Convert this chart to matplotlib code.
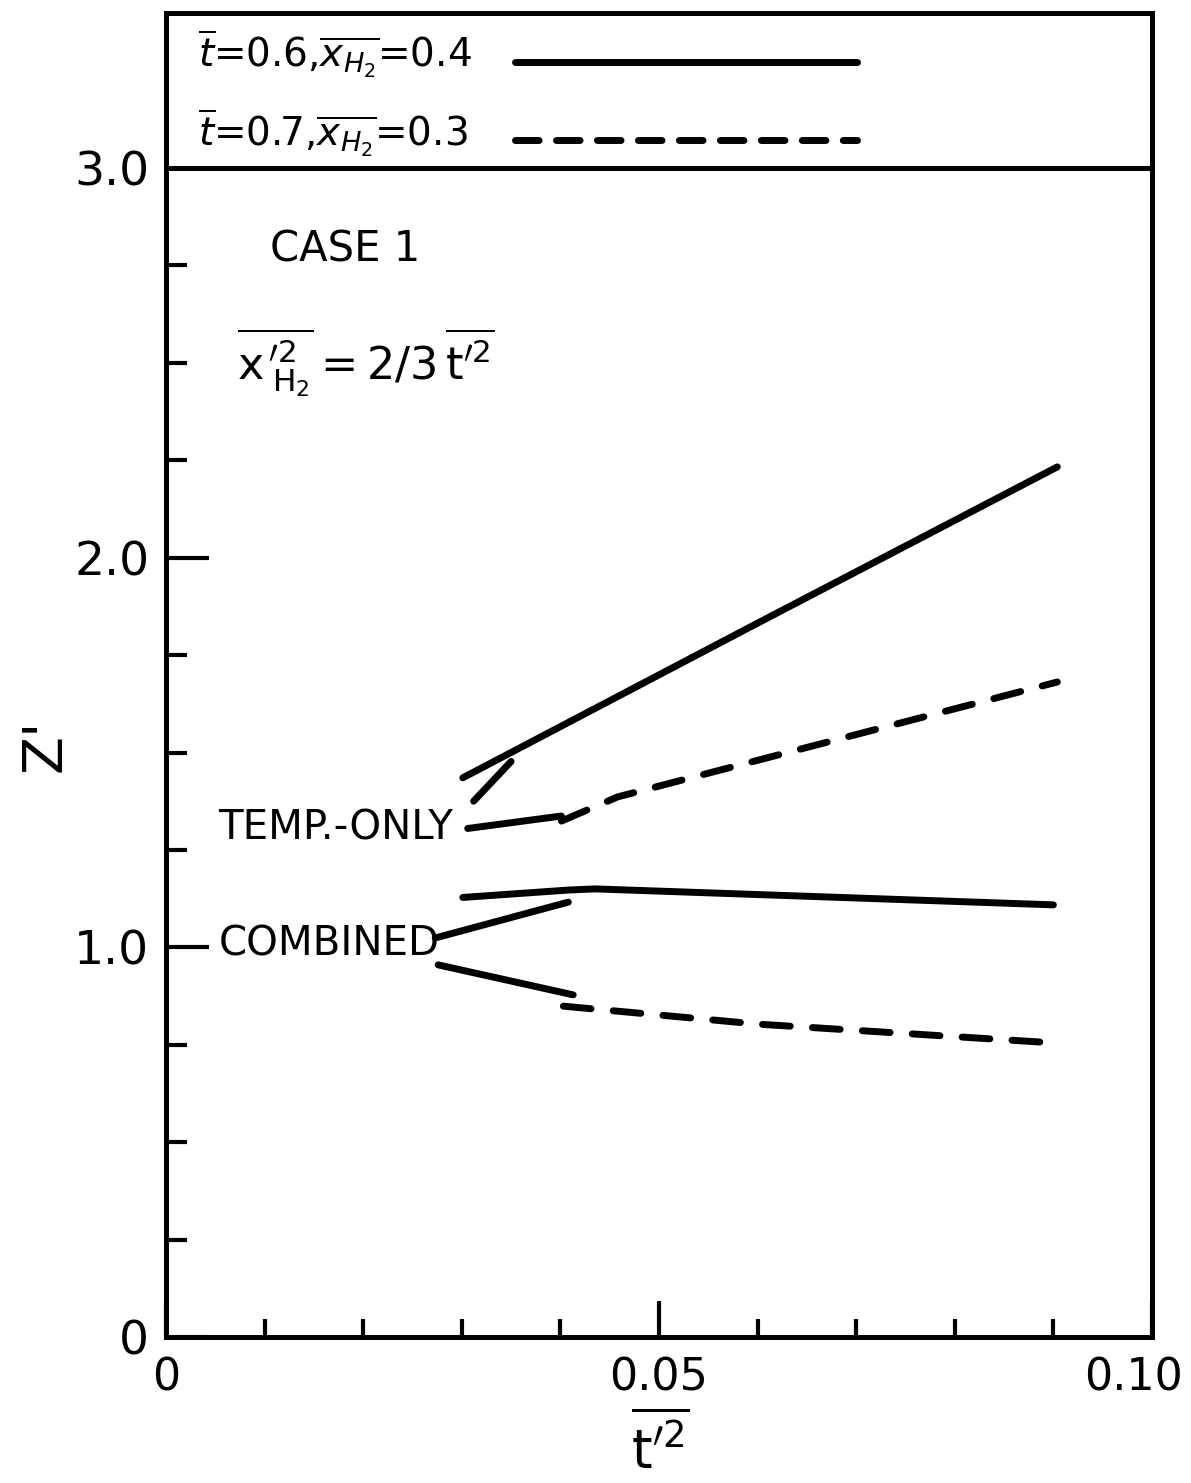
import matplotlib
matplotlib.use("Agg")
import matplotlib.pyplot as plt
from matplotlib.ticker import MultipleLocator, FixedLocator
from matplotlib.transforms import ScaledTranslation

plt.rcParams['font.family'] = ['DejaVu Sans']
plt.rcParams['mathtext.fontset'] = 'dejavusans'

# ---- data ----
temp06_x = [0.0301, 0.0600, 0.0904]
temp06_y = [1.435, 1.832, 2.233]
temp_link_x = [0.0312, 0.0350]
temp_link_y = [1.375, 1.477]
temp07_solid_x = [0.0306, 0.0401]
temp07_solid_y = [1.305, 1.337]
temp07_dash_x = [0.0401, 0.0458, 0.0904]
temp07_dash_y = [1.324, 1.386, 1.681]
comb06_x = [0.0301, 0.0408, 0.0435, 0.0900]
comb06_y = [1.128, 1.147, 1.150, 1.109]
comb_link_x = [0.0273, 0.0408]
comb_link_y = [1.024, 1.116]
comb07_solid_x = [0.0276, 0.0413]
comb07_solid_y = [0.955, 0.878]
comb07_dash_x = [0.0403, 0.0600, 0.0905]
comb07_dash_y = [0.849, 0.803, 0.754]

x_labels_pos = [0.0, 0.05, 0.10]
x_labels = ['0', '0.05', '0.10']
y_labels_pos = [0.0, 1.0, 2.0, 3.0]
y_labels = ['0', '1.0', '2.0', '3.0']
legend_labels = [r'$\overline{t}$=0.6,$\overline{x_{H_2}}$=0.4',
                 r'$\overline{t}$=0.7,$\overline{x_{H_2}}$=0.3']

W, H = 1191, 1483
fig = plt.figure(figsize=(W / 100, H / 100), dpi=100)

L, R, B, T = 166 / W, 1152 / W, 1 - 1337 / H, 1 - 168 / H
ax = fig.add_axes([L, B, R - L, T - B])
LT = 1 - 13 / H
lax = fig.add_axes([L, T, R - L, LT - T])

spine_lw = 3.6
for a in (ax, lax):
    for s in a.spines.values():
        s.set_linewidth(spine_lw)
        s.set_color('black')

ax.set_xlim(0, 0.10)
ax.set_ylim(0, 3.0)

lw = 5.0
dash = (4.0, 3.2)
kw_s = dict(color='black', lw=lw, solid_capstyle='round')
kw_d = dict(color='black', lw=lw, dash_capstyle='round', linestyle=(0, dash))

ax.plot(temp06_x, temp06_y, **kw_s)
ax.plot(temp_link_x, temp_link_y, **kw_s)
ax.plot(temp07_solid_x, temp07_solid_y, **kw_s)
ax.plot(temp07_dash_x, temp07_dash_y, **kw_d)
ax.plot(comb06_x, comb06_y, **kw_s)
ax.plot(comb_link_x, comb_link_y, **kw_s)
ax.plot(comb07_solid_x, comb07_solid_y, **kw_s)
ax.plot(comb07_dash_x, comb07_dash_y, **kw_d)

# ticks
ax.xaxis.set_major_locator(FixedLocator(x_labels_pos))
ax.set_xticklabels(x_labels)
ax.xaxis.set_minor_locator(MultipleLocator(0.01))
ax.yaxis.set_major_locator(FixedLocator(y_labels_pos))
ax.set_yticklabels(y_labels)
ax.yaxis.set_minor_locator(MultipleLocator(0.25))
ax.tick_params(which='major', direction='in', length=31, width=3.0,
               labelsize=34, top=False, right=False)
ax.tick_params(axis='x', which='major', length=26, pad=14, labelsize=32)
ax.tick_params(axis='y', which='major', pad=12)
ax.tick_params(which='minor', direction='in', length=15, width=3.0,
               top=False, right=False)
ax.tick_params(axis='x', which='minor', length=13)
last = ax.get_xticklabels()[-1]
last.set_transform(last.get_transform() +
                   ScaledTranslation(-18 / 100, 0, fig.dpi_scale_trans))

# annotations
ax.text(0.0105, 2.79, 'CASE 1', fontsize=30, ha='left', va='center')
ax.text(0.0072, 2.50,
        r"$\overline{\mathrm{x}_{\;\mathrm{H_2}}^{\,\prime 2}}=2/3\,\overline{\mathrm{t}^{\prime 2}}$",
        fontsize=32, ha='left', va='center')
ax.text(0.0053, 1.306, 'TEMP.-ONLY', fontsize=29, ha='left', va='center')
ax.text(0.0053, 1.006, 'COMBINED', fontsize=29, ha='left', va='center')

fig.text(45 / W, 1 - 745 / H, "Z'", fontsize=40, rotation=90,
         ha='center', va='center')
fig.text(660 / W, 1 - 1445 / H, r"$\overline{\mathrm{t}^{\prime 2}}$", fontsize=38,
         ha='center', va='center')

# legend box
lax.set_xlim(0, 1)
lax.set_ylim(0, 1)
lax.set_xticks([])
lax.set_yticks([])
lax.text(0.032, 0.74, legend_labels[0], fontsize=28, ha='left', va='center')
lax.text(0.032, 0.23, legend_labels[1], fontsize=28, ha='left', va='center')
lax.plot([0.354, 0.701], [0.684, 0.684], **kw_s)
lax.plot([0.354, 0.701], [0.18, 0.18], color='black', lw=lw,
         dash_capstyle='round', linestyle=(0, (3.4, 2.5)))

fig.savefig('out.png', dpi=100)
